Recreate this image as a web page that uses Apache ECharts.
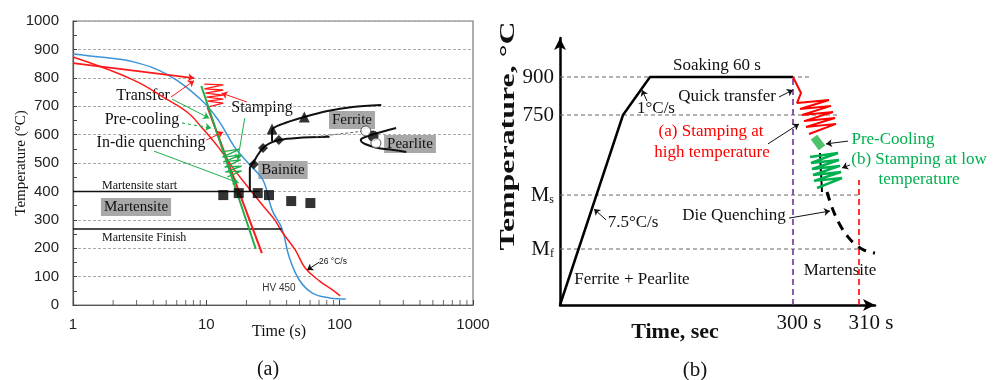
<!DOCTYPE html>
<html><head><meta charset="utf-8">
<script src="https://cdn.jsdelivr.net/npm/echarts@6/dist/echarts.min.js"></script>
<style>html,body{margin:0;padding:0;background:#fff}#c{width:1003px;height:380px}</style>
</head><body><div id="c"></div><script>
// ---------- Panel (a): CCT diagram (log time) ----------
const aXTicks = [1, 10, 100, 1000];
const aYTicks = [0, 100, 200, 300, 400, 500, 600, 700, 800, 900, 1000];
const aMinorTicks = [2,3,4,5,6,7,8,9,20,30,40,50,60,70,80,90,200,300,400,500,600,700,800,900];
const hvTime = [1, 1.60, 2.85, 5.15, 9.17, 12.3, 16.3, 21.2, 26.6, 31.1, 37.0, 41.8, 49.8, 62.4, 84.0, 111];
const hvTemp = [884, 873, 856, 810, 722, 651, 556, 493, 440, 335, 268, 169, 88, 42, 25, 21];
const rateTime = [1, 2.85, 5.15, 7.32, 9.17, 12.3, 16.3, 22.0, 27.1, 32.7, 37.0, 46.4, 55.1, 70.4, 88.3, 101];
const rateTemp = [873, 792, 722, 676, 627, 556, 475, 398, 345, 299, 257, 194, 130, 85, 53, 32];
const transferTime = [1, 8.1];
const transferTemp = [852, 799];
const redZigTime = [9.66, 13.4, 9.66, 13.4, 9.83, 13.4, 10.0, 13.4, 10.2, 13.4, 10.2];
const redZigTemp = [778, 775, 761, 757, 746, 739, 732, 725, 718, 711, 697];
const redQuenchTime = [10.2, 26.1];
const redQuenchTemp = [697, 183];
const greenQuenchTime = [9.17, 23.5];
const greenQuenchTemp = [771, 197];
const greenZigTime = [13.0, 17.8, 13.2, 18.1, 13.4, 18.1, 13.7, 18.4, 13.9, 18.4, 14.4];
const greenZigTemp = [539, 549, 521, 528, 504, 511, 486, 489, 468, 472, 451];
const msTime = [1, 24.8], msTemp = [400, 400];
const mfTime = [1, 36.8], mfTemp = [268, 268];
const bainiteTime = [21.2, 21.2, 22.7, 24.3, 26.6, 30.0, 35.0, 48.1, 84.0];
const bainiteTemp = [398, 482, 504, 528, 553, 570, 581, 588, 592];
const ferriteTime = [31.1, 31.1, 37.0, 54.3, 81.1, 125, 205];
const ferriteTemp = [577, 616, 637, 662, 683, 697, 704];
const pearliteTime = [265, 205, 163, 144, 155, 194, 252, 316];
const pearliteTemp = [623, 609, 595, 581, 567, 553, 546, 539];
const linkTime = [65.8, 155], linkTemp = [592, 613];
const squareTime = [13.4, 17.5, 24.3, 29.5, 43.3, 60.3];
const squareTemp = [387, 394, 394, 387, 366, 359];
const diamondTime = [22.7, 26.6, 35.0], diamondTemp = [496, 553, 581];
const triangleTime = [31.1, 54.3], triangleTemp = [620, 662];
const pearliteDotTime = [178], pearliteDotTemp = [595];
const pearliteOpenTime = [157, 187], pearliteOpenTemp = [613, 570];
// annotation pointer lines (from label to target) in data units
const aRedPtrs = [[[5.43, 732], [8.1, 790]], [[10.0, 581], [13.4, 609]], [[20.1, 715], [13.0, 746]]];
const aGreenPtrs = [[[5.53, 725], [10.5, 658]], [[4.04, 542], [17.5, 430]], [[19.4, 658], [17.2, 511]]];
const aGreenDashPtrs = [[[6.58, 641], [10.9, 623]]];
const aBlackPtrs = [[[70.4, 151], [57.0, 123]]];

// ---------- Panel (b): schematic process route ----------
const bTimeTickPos = [233, 299];
const bTimeTickLabels = ['{a|300 s}', '{b|310 s}'];
const bTempTickPos = [900, 750, 434, 221];
const bTempTickLabels = ['900', '750', '{m|M}{s|s}', '{m|M}{s|f}'];
const levelEnds = [252, 280, 300, 300];
const heatX = [0, 63, 90, 233], heatY = [0, 750, 900, 900];
const purpleX = [233, 233], purpleY = [0, 900];
const redDashX = [299, 299], redDashY = [0, 493];
const transferX = [233, 241, 237, 269, 240, 271, 242, 273, 244, 275, 246, 276, 249];
const transferY = [900, 837, 797, 809, 774, 786, 750, 762, 726, 738, 703, 715, 675];
const preCoolX = [254, 262], preCoolY = [663, 620];
const lowZigX = [250, 278, 251, 279, 252, 280, 253, 281, 254, 282, 257];
const lowZigY = [584, 600, 561, 572, 537, 549, 513, 525, 490, 501, 462];
const coreX = [260, 262], coreY = [600, 446];
const dieQX = [267, 273, 280, 288, 296, 304, 315];
const dieQY = [446, 375, 316, 269, 237, 217, 205];
const bPtrs = [[[87, 805], [82, 849]], [[219, 821], [233, 849]], [[208, 636], [239, 715]],
               [[46, 336], [34, 379]], [[229, 343], [270, 371]]];
const bGreenPtrs = [[[288, 647], [266, 636]], [[290, 553], [282, 541]]];

const zip = (a, b) => a.map((v, i) => [v, b[i]]);
const SERIF = "'Liberation Serif','DejaVu Serif',serif";
const SANS = "'Liberation Sans',Arial,sans-serif";
const RED = '#ff1a1a', BLUE = '#3d93d8', GREEN = '#1fae4b';

function line(xs, ys, color, width, extra) {
  return Object.assign({ type: 'line', xAxisIndex: 0, yAxisIndex: 0, data: zip(xs, ys), symbol: 'none',
    lineStyle: { color: color, width: width }, silent: true, animation: false, z: 3 }, extra || {});
}
function ptrs(list, color, type, axis, width) {
  return { type: 'lines', coordinateSystem: 'cartesian2d', xAxisIndex: axis, yAxisIndex: axis,
    data: list.map(c => ({ coords: c })), symbol: ['none', 'arrow'], symbolSize: 6,
    lineStyle: { color: color, width: width || 1, type: type, opacity: 1 }, silent: true, animation: false, z: 4 };
}
function scatter(xs, ys, sym, size, color, extra) {
  return Object.assign({ type: 'scatter', xAxisIndex: 0, yAxisIndex: 0, data: zip(xs, ys), symbol: sym,
    symbolSize: size, itemStyle: { color: color }, silent: true, animation: false, z: 5 }, extra || {});
}
function txt(t, x, y, font, fill, extra) {
  const el = { type: 'text', x: x, y: y, silent: true,
    style: { text: t, font: font, fill: fill || '#111', align: 'center', verticalAlign: 'middle' } };
  return Object.assign(el, extra || {});
}
function box(t, x, y) {
  return { type: 'text', x: x, y: y, silent: true,
    style: { text: t, font: '15px ' + SERIF, fill: '#111', align: 'center', verticalAlign: 'middle',
      backgroundColor: '#a8a8a8', padding: [2, 3, 1, 3] } };
}

const series = [
  line(hvTime, hvTemp, BLUE, 1.5, { smooth: 0.4 }),
  line(rateTime, rateTemp, RED, 1.5, { smooth: 0.4 }),
  line(msTime, msTemp, '#111', 1.5),
  line(mfTime, mfTemp, '#111', 1.5),
  ptrs([zip(transferTime, transferTemp)], RED, 'solid', 0, 1.8),
  line(redZigTime, redZigTemp, RED, 1.3),
  line(redQuenchTime, redQuenchTemp, RED, 2),
  line(greenQuenchTime, greenQuenchTemp, GREEN, 2),
  line(greenZigTime, greenZigTemp, GREEN, 1.3),
  line(bainiteTime, bainiteTemp, '#111', 2, { smooth: 0.3 }),
  line(ferriteTime, ferriteTemp, '#111', 2, { smooth: 0.3 }),
  line(pearliteTime, pearliteTemp, '#111', 2, { smooth: 0.4 }),
  line(linkTime, linkTemp, '#666', 1, { lineStyle: { color: '#666', width: 1, type: [3, 2] } }),
  ptrs(aRedPtrs, RED, 'solid', 0, 1),
  ptrs(aGreenPtrs, GREEN, 'solid', 0, 1),
  ptrs(aGreenDashPtrs, GREEN, [3, 3], 0, 1.2),
  ptrs(aBlackPtrs, '#111', 'solid', 0, 1),
  scatter(squareTime, squareTemp, 'rect', 10, '#000'),
  scatter(diamondTime, diamondTemp, 'diamond', 10, '#000'),
  scatter(triangleTime, triangleTemp, 'triangle', 11, '#000'),
  scatter(pearliteDotTime, pearliteDotTemp, 'circle', 11, '#000'),
  scatter(pearliteOpenTime, pearliteOpenTemp, 'circle', 10, '#fff', { itemStyle: { color: '#fff', borderColor: '#333', borderWidth: 1 } }),
  scatter(aMinorTicks, aMinorTicks.map(() => 0), 'rect', [1, 5], '#444', { symbolOffset: [0, -2.5], clip: false }),
  // panel b
  ...bTempTickPos.map((v, i) => line([0, levelEnds[i]], [v, v], '#666', 1, { xAxisIndex: 1, yAxisIndex: 1, lineStyle: { color: '#666', width: 1, type: [4, 3] } })),
  line(purpleX, purpleY, '#7030a0', 1.5, { xAxisIndex: 1, yAxisIndex: 1, lineStyle: { color: '#7030a0', width: 1.6, type: [6, 4] } }),
  line(redDashX, redDashY, '#ff0000', 1.5, { xAxisIndex: 1, yAxisIndex: 1, lineStyle: { color: '#ff0000', width: 1.6, type: [6, 4] } }),
  line(heatX, heatY, '#000', 2.5, { xAxisIndex: 1, yAxisIndex: 1 }),
  line(transferX, transferY, '#ff0000', 2, { xAxisIndex: 1, yAxisIndex: 1 }),
  line(preCoolX, preCoolY, '#4cc36b', 8, { xAxisIndex: 1, yAxisIndex: 1 }),
  line(coreX, coreY, '#000', 2, { xAxisIndex: 1, yAxisIndex: 1 }),
  line(lowZigX, lowZigY, '#00b050', 2.5, { xAxisIndex: 1, yAxisIndex: 1, z: 4 }),
  line(dieQX, dieQY, '#000', 3, { xAxisIndex: 1, yAxisIndex: 1, smooth: 0.4, lineStyle: { color: '#000', width: 3, type: [9, 7] } }),
  ptrs(bPtrs, '#111', 'solid', 1, 1),
  ptrs(bGreenPtrs, '#111', 'solid', 1, 1)
];

const graphic = [
  // panel a texts
  txt('Transfer', 143, 96, '16px ' + SERIF),
  txt('Pre-cooling', 142, 120, '16px ' + SERIF),
  txt('In-die quenching', 151, 143, '16px ' + SERIF),
  txt('Stamping', 262, 108, '16px ' + SERIF),
  { type: 'text', x: 102, y: 186, silent: true, style: { text: 'Martensite start', font: '12px ' + SERIF, fill: '#111', align: 'left', verticalAlign: 'middle' } },
  { type: 'text', x: 102, y: 238, silent: true, style: { text: 'Martensite Finish', font: '12px ' + SERIF, fill: '#111', align: 'left', verticalAlign: 'middle' } },
  box('Martensite', 136, 207),
  box('Bainite', 283, 170),
  box('Ferrite', 352, 120),
  box('Pearlite', 410, 144),
  txt('26 °C/s', 333, 262, '8.5px ' + SANS),
  txt('HV 450', 279, 288, '10px ' + SANS, '#333'),
  txt('Time (s)', 279, 332, '16px ' + SERIF),
  txt('(a)', 268, 370, '20px ' + SERIF),
  txt('Temperature (°C)', 21, 163, '15px ' + SERIF, '#111', { rotation: Math.PI / 2 }),
  // panel b texts
  txt('Soaking 60 s', 717, 66, '17px ' + SERIF),
  txt('Quick transfer', 727, 97, '17px ' + SERIF),
  txt('1°C/s', 656, 109, '17px ' + SERIF),
  txt('(a) Stamping at', 711, 132, '17px ' + SERIF, '#ff0000'),
  txt('high temperature', 712, 153, '17px ' + SERIF, '#ff0000'),
  txt('Pre-Cooling', 893, 140, '17px ' + SERIF, '#00b050'),
  txt('(b) Stamping at low', 919, 160, '17px ' + SERIF, '#00b050'),
  txt('temperature', 919, 180, '17px ' + SERIF, '#00b050'),
  txt('7.5°C/s', 633, 223, '17px ' + SERIF),
  txt('Die Quenching', 734, 216, '17px ' + SERIF),
  txt('Ferrite + Pearlite', 632, 280, '17px ' + SERIF),
  txt('Martensite', 840, 271, '17px ' + SERIF),
  txt('Time, sec', 675, 332, 'bold 22px ' + SERIF),
  txt('Temperature, °C', 508, 136, 'bold 22px ' + SERIF, '#111', { rotation: Math.PI / 2, scaleX: 1.45, scaleY: 1 }),
  txt('(b)', 695, 370, '21px ' + SERIF)
];

const chart = echarts.init(document.getElementById('c'), null, { renderer: 'canvas' });
chart.setOption({
  animation: false,
  backgroundColor: '#fff',
  grid: [
    { left: 73, top: 21, width: 400, height: 284, show: true, borderColor: '#777', borderWidth: 1.2, backgroundColor: '#fff' },
    { left: 560, top: 38, width: 315, height: 267, show: false }
  ],
  xAxis: [
    { gridIndex: 0, type: 'log', logBase: 10, min: 1, max: 1000,
      axisLine: { lineStyle: { color: '#555', width: 1.2 } },
      axisTick: { inside: true, length: 5, lineStyle: { color: '#444' } },
      axisLabel: { fontFamily: SANS, fontSize: 15, color: '#222', margin: 12, customValues: aXTicks, formatter: v => String(v) },
      splitLine: { show: false }, minorTick: { show: false } },
    { gridIndex: 1, type: 'value', min: 0, max: 315,
      axisLine: { lineStyle: { color: '#000', width: 2.5 }, symbol: ['none', 'arrow'], symbolSize: [9, 12], symbolOffset: [0, 0] },
      axisTick: { show: false }, splitLine: { show: false },
      axisLabel: { customValues: bTimeTickPos, formatter: v => bTimeTickLabels[bTimeTickPos.indexOf(v)] || '',
        fontFamily: SERIF, fontSize: 21, color: '#111', margin: 8,
        rich: { a: { fontFamily: SERIF, fontSize: 21, color: '#111', padding: [0, 0, 0, 12] },
                b: { fontFamily: SERIF, fontSize: 21, color: '#111', padding: [0, 0, 0, 24] } } } }
  ],
  yAxis: [
    { gridIndex: 0, type: 'value', min: 0, max: 1000, interval: 100,
      axisLine: { lineStyle: { color: '#555', width: 1.2 } },
      axisTick: { inside: true, length: 4, lineStyle: { color: '#444' } },
      minorTick: { show: true, splitNumber: 2, length: 4, lineStyle: { color: '#444' } },
      axisLabel: { fontFamily: SANS, fontSize: 15, color: '#222', margin: 14, formatter: v => String(v) },
      splitLine: { show: true, lineStyle: { color: '#aaa', type: [3, 2], width: 1 } } },
    { gridIndex: 1, type: 'value', min: 0, max: 1054,
      axisLine: { lineStyle: { color: '#000', width: 2.5 }, symbol: ['none', 'arrow'], symbolSize: [9, 12], symbolOffset: [0, 0] },
      axisTick: { show: false }, splitLine: { show: false },
      axisLabel: { customValues: bTempTickPos, formatter: v => bTempTickLabels[bTempTickPos.indexOf(v)] || '',
        fontFamily: SERIF, fontSize: 21, color: '#111', margin: 6,
        rich: { m: { fontFamily: SERIF, fontSize: 21, color: '#111' }, s: { fontFamily: SERIF, fontSize: 12, color: '#111', verticalAlign: 'bottom', padding: [8, 0, 0, 0] } } } }
  ],
  series: series,
  graphic: graphic
});
</script></body></html>
